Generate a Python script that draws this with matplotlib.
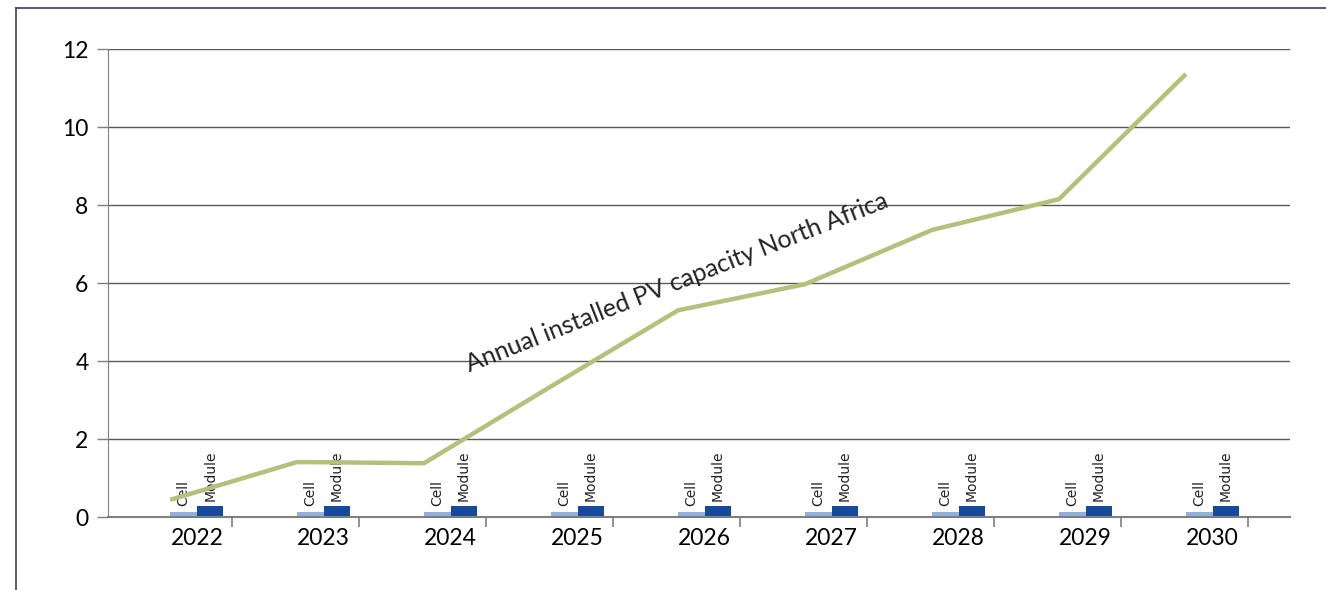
import numpy as np
import matplotlib
matplotlib.use("Agg")
import matplotlib.pyplot as plt
from matplotlib.lines import Line2D

plt.rcParams['font.family'] = ['Lato', 'DejaVu Sans']

years = ['2022', '2023', '2024', '2025', '2026', '2027', '2028', '2029', '2030']
pv_capacity = [0.44, 1.41, 1.38, 3.35, 5.3, 5.97, 7.36, 8.15, 11.36]
cell = [0.13, 0.13, 0.13, 0.13, 0.13, 0.13, 0.13, 0.13, 0.13]
module = [0.28, 0.28, 0.28, 0.28, 0.28, 0.28, 0.28, 0.28, 0.28]

fig = plt.figure(figsize=(13.26, 5.9), dpi=100)
ax = fig.add_axes([0.0814, 0.1237, 0.8915, 0.7932])

x = np.arange(len(years))
bw = 0.21
ax.bar(x - bw / 2, cell, bw, color='#8eb1de', zorder=3)
ax.bar(x + bw / 2, module, bw, color='#154a9c', zorder=3)
for xi, c, m in zip(x, cell, module):
    ax.text(xi - bw / 2, c + 0.15, 'Cell', rotation=90, ha='center', va='bottom',
            fontsize=10, color='#222222', family=['DejaVu Sans'])
    ax.text(xi + bw / 2, m + 0.12, 'Module', rotation=90, ha='center', va='bottom',
            fontsize=10, color='#222222', family=['DejaVu Sans'])

# line series sits a little to the left of the bar groups
ax.plot(x - 0.21, pv_capacity, color='#b3c17c', lw=3.2, zorder=4,
        solid_capstyle='butt')
ax.text(2.15, 3.72, 'Annual installed PV capacity North Africa', rotation=21.5,
        rotation_mode='anchor', ha='left', va='baseline', fontsize=18,
        color='#222222')

ax.set_xlim(-0.70, 8.61)
ax.set_ylim(0, 12)
ax.set_yticks(range(0, 13, 2))
ax.set_xticks(x)
ax.set_xticklabels(years)
ax.set_xticks(x + 0.28, minor=True)
ax.tick_params(axis='x', which='major', length=0, pad=8, labelsize=16.5)
ax.tick_params(axis='x', which='minor', length=7, width=1.2, color='#7f7f7f',
               direction='out')
ax.tick_params(axis='y', length=8, width=1, color='#7f7f7f', pad=6,
               labelsize=16.5)
ax.grid(axis='y', color='#5a5a5a', lw=1, zorder=0)
for s in ['top', 'right']:
    ax.spines[s].set_visible(False)
ax.spines['left'].set_color('#7f7f7f')
ax.spines['bottom'].set_color('#7f7f7f')
ax.spines['bottom'].set_linewidth(1.5)
ax.spines['bottom'].set_zorder(5)

# outer frame
fig.add_artist(Line2D([16 / 1326, 16 / 1326], [0, 1 - 8 / 590],
                      transform=fig.transFigure, color='#3b3f58', lw=1.2))
fig.add_artist(Line2D([16 / 1326, 1], [1 - 8 / 590, 1 - 8 / 590],
                      transform=fig.transFigure, color='#3b3f58', lw=1.2))

fig.savefig('out.png', dpi=100)
